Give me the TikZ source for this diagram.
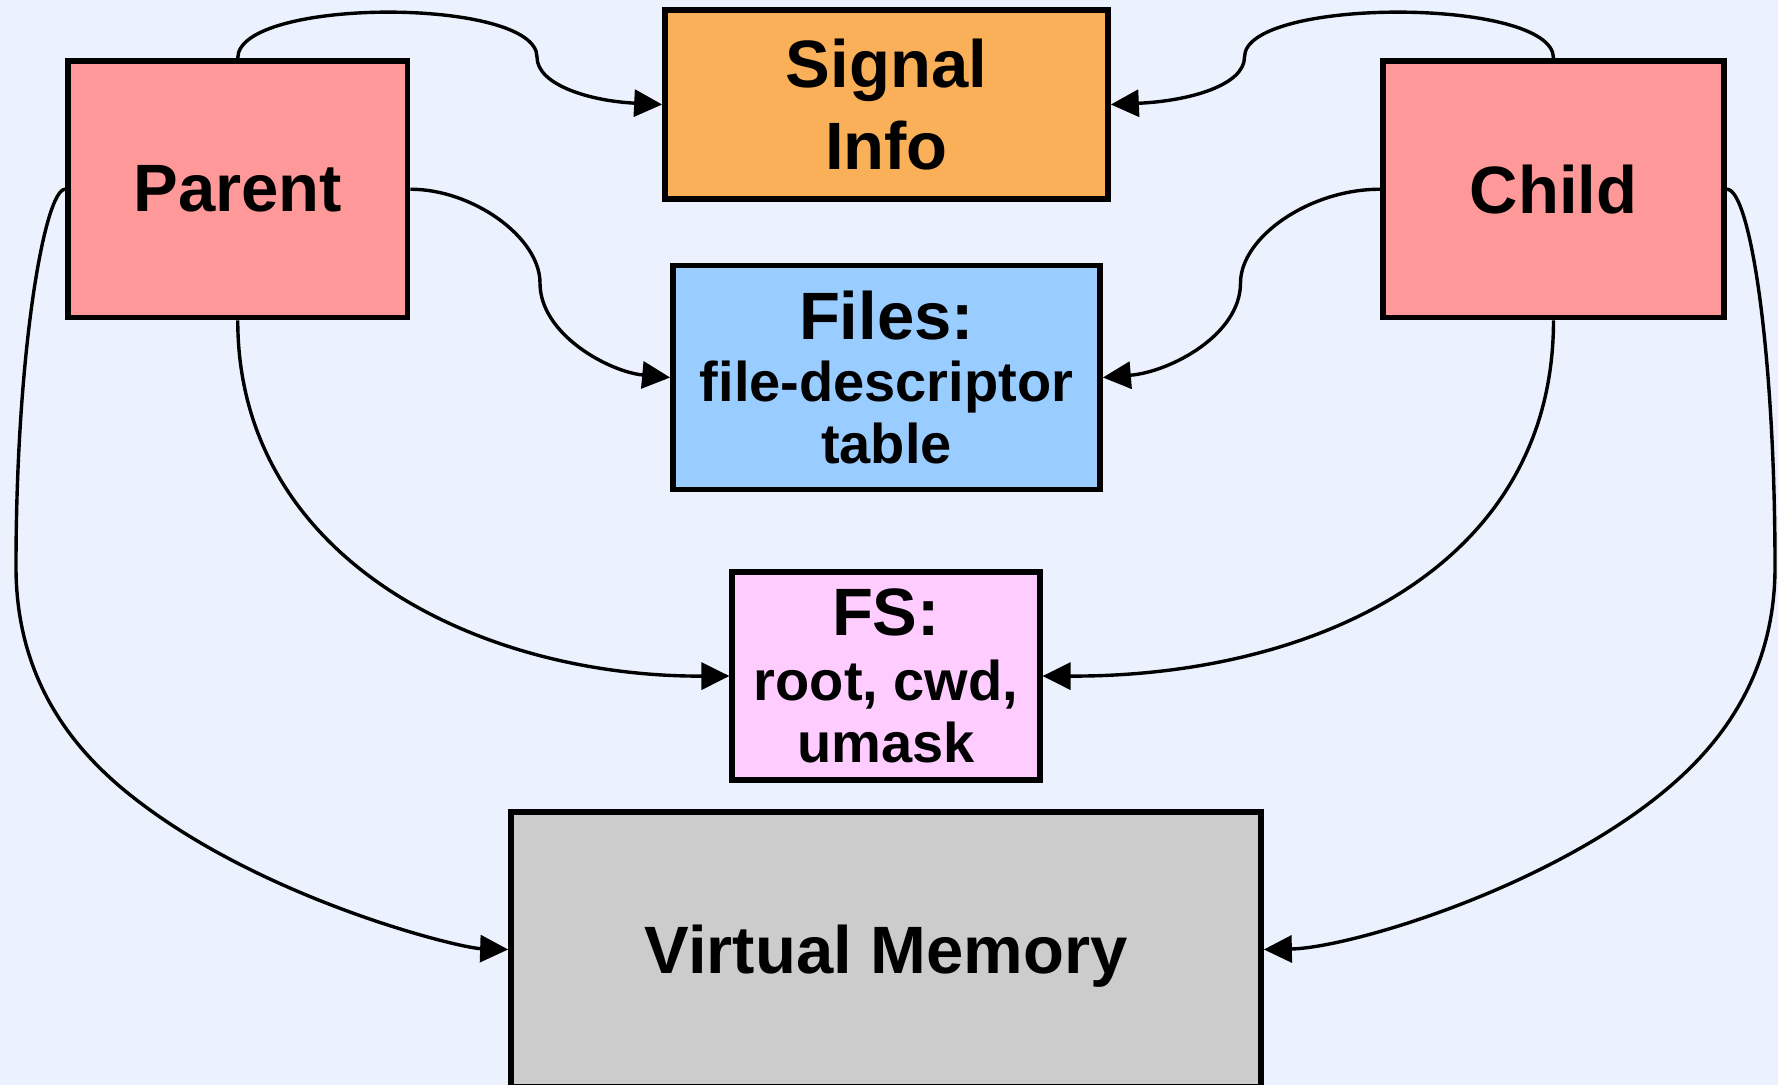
\documentclass[tikz,border=0pt]{standalone}
\usepackage{fontspec}
\setmainfont{Liberation Sans}
\usetikzlibrary{arrows.meta}
\definecolor{bg}{RGB}{235,242,253}
\definecolor{parentc}{RGB}{255,153,153}
\definecolor{signalc}{RGB}{250,176,88}
\definecolor{filesc}{RGB}{153,204,255}
\definecolor{fsc}{RGB}{255,204,255}
\definecolor{vmc}{RGB}{204,204,204}
\newcommand{\bigf}{\fontsize{33.5}{41}\selectfont}
\newcommand{\smallf}{\fontsize{28}{31}\selectfont}
\tikzset{
  box/.style={draw=black, line width=2.85pt, inner sep=0pt, align=center, font=\bfseries\bigf},
  conn/.style={line width=1.7pt, -{Triangle[length=14pt,width=13.5pt]}},
}
\begin{document}
\begin{tikzpicture}[x=0.5pt,y=-0.5pt]
\fill[bg] (0,0) rectangle (1778,1085);
\useasboundingbox (0,0) rectangle (1778,1085);

\node[box, fill=parentc, minimum width=169.75pt, minimum height=128.25pt] (parent) at (237.75,189.25) {Parent};
\node[box, fill=parentc, minimum width=170.5pt, minimum height=128.25pt] (child) at (1553.5,189.25) {Child};
\node[box, fill=signalc, minimum width=221.5pt, minimum height=94.5pt] (signal) at (886.5,104.5) {Signal\\Info};
\node[box, fill=filesc, minimum width=213.5pt, minimum height=112pt, font=\bfseries\smallf] (files) at (886.5,377.5) {{\bigf Files:}\\file-descriptor\\table};
\node[box, fill=fsc, minimum width=153.75pt, minimum height=103.75pt, font=\bfseries\smallf] (fs) at (886,676) {{\bigf FS:}\\[1.5pt]root, cwd,\\umask};
\node[box, fill=vmc, minimum width=375pt, minimum height=137.5pt, text depth=0pt] (vm) at (886,949.5) {Virtual Memory};

\draw[conn] (parent.north) .. controls (237.75,-3) and (537,-3) .. (537,57) .. controls (537,85) and (590,101) .. (signal.west);
\draw[conn] (child.north) .. controls (1553.5,-3) and (1244.5,-3) .. (1244.5,57) .. controls (1244.5,85) and (1190,101) .. (signal.east);
\draw[conn] (parent.east) .. controls (472,189) and (540,237) .. (540,283) .. controls (540,335) and (610,372) .. (files.west);
\draw[conn] (child.west) .. controls (1310,189) and (1240.5,237) .. (1240.5,283) .. controls (1240.5,335) and (1170,372) .. (files.east);
\draw[conn] (parent.south) .. controls (237.75,560) and (480,677) .. (fs.west);
\draw[conn] (child.south) .. controls (1553.5,570) and (1310,677) .. (fs.east);
\draw[conn] (parent.west) .. controls (45,189) and (16,350) .. (16,567) .. controls (16,700) and (96,771) .. (150,810) .. controls (280,904) and (460,948) .. (vm.west);
\draw[conn] (child.east) .. controls (1750,189) and (1775,350) .. (1775,567) .. controls (1775,700) and (1692,772) .. (1640,810) .. controls (1520,897) and (1345,948) .. (vm.east);
\end{tikzpicture}
\end{document}
